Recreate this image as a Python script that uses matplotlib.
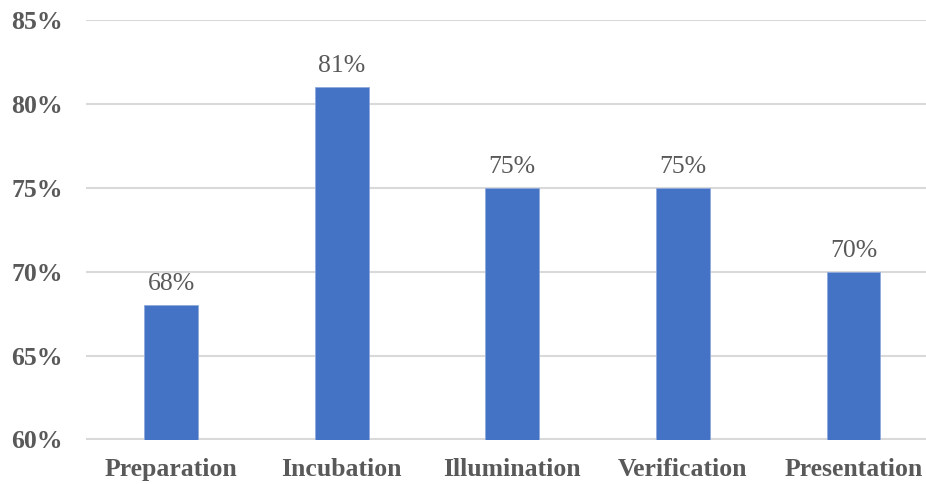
import matplotlib.pyplot as plt
import numpy as np

stages = ["Preparation", "Incubation", "Illumination", "Verification", "Presentation"]
scores = [68, 81, 75, 75, 70]
y_ticks = [60, 65, 70, 75, 80, 85]

plt.rcParams['font.family'] = ['Liberation Serif', 'DejaVu Serif']
text_gray = '#595959'

W, H = 926, 484
fig = plt.figure(figsize=(W / 100, H / 100), dpi=100)
# plot area in pixels: left 85.7, right 938.8 (runs past the edge), top 20, bottom 439.5
left, right, top, bottom = 85.7, 938.8, 20.0, 439.5
ax = fig.add_axes([left / W, 1 - bottom / H, (right - left) / W, (bottom - top) / H])

x = np.arange(len(stages))
ax.bar(x, scores, width=0.316, color='#4472C4', edgecolor='#8faadc', linewidth=0.6, zorder=3)

for xi, v in zip(x, scores):
    ax.text(xi, v + 0.6, f"{v}%", ha='center', va='bottom', fontsize=18.5, color=text_gray)

ax.set_xlim(-0.5, len(stages) - 0.5)
ax.set_ylim(60, 85)
ax.set_yticks(y_ticks)
ax.set_yticklabels([f"{t}%" for t in y_ticks])
ax.set_xticks(x)
ax.set_xticklabels(stages)

ax.grid(axis='y', color='#d9d9d9', linewidth=1.5, zorder=0)
for s in ax.spines.values():
    s.set_visible(False)
ax.tick_params(length=0, colors=text_gray, labelsize=18.5)
ax.tick_params(axis='y', pad=16.5)
ax.tick_params(axis='x', pad=13.5)
for lab in ax.get_xticklabels() + ax.get_yticklabels():
    lab.set_fontweight('bold')

fig.savefig('out.png', dpi=100)
